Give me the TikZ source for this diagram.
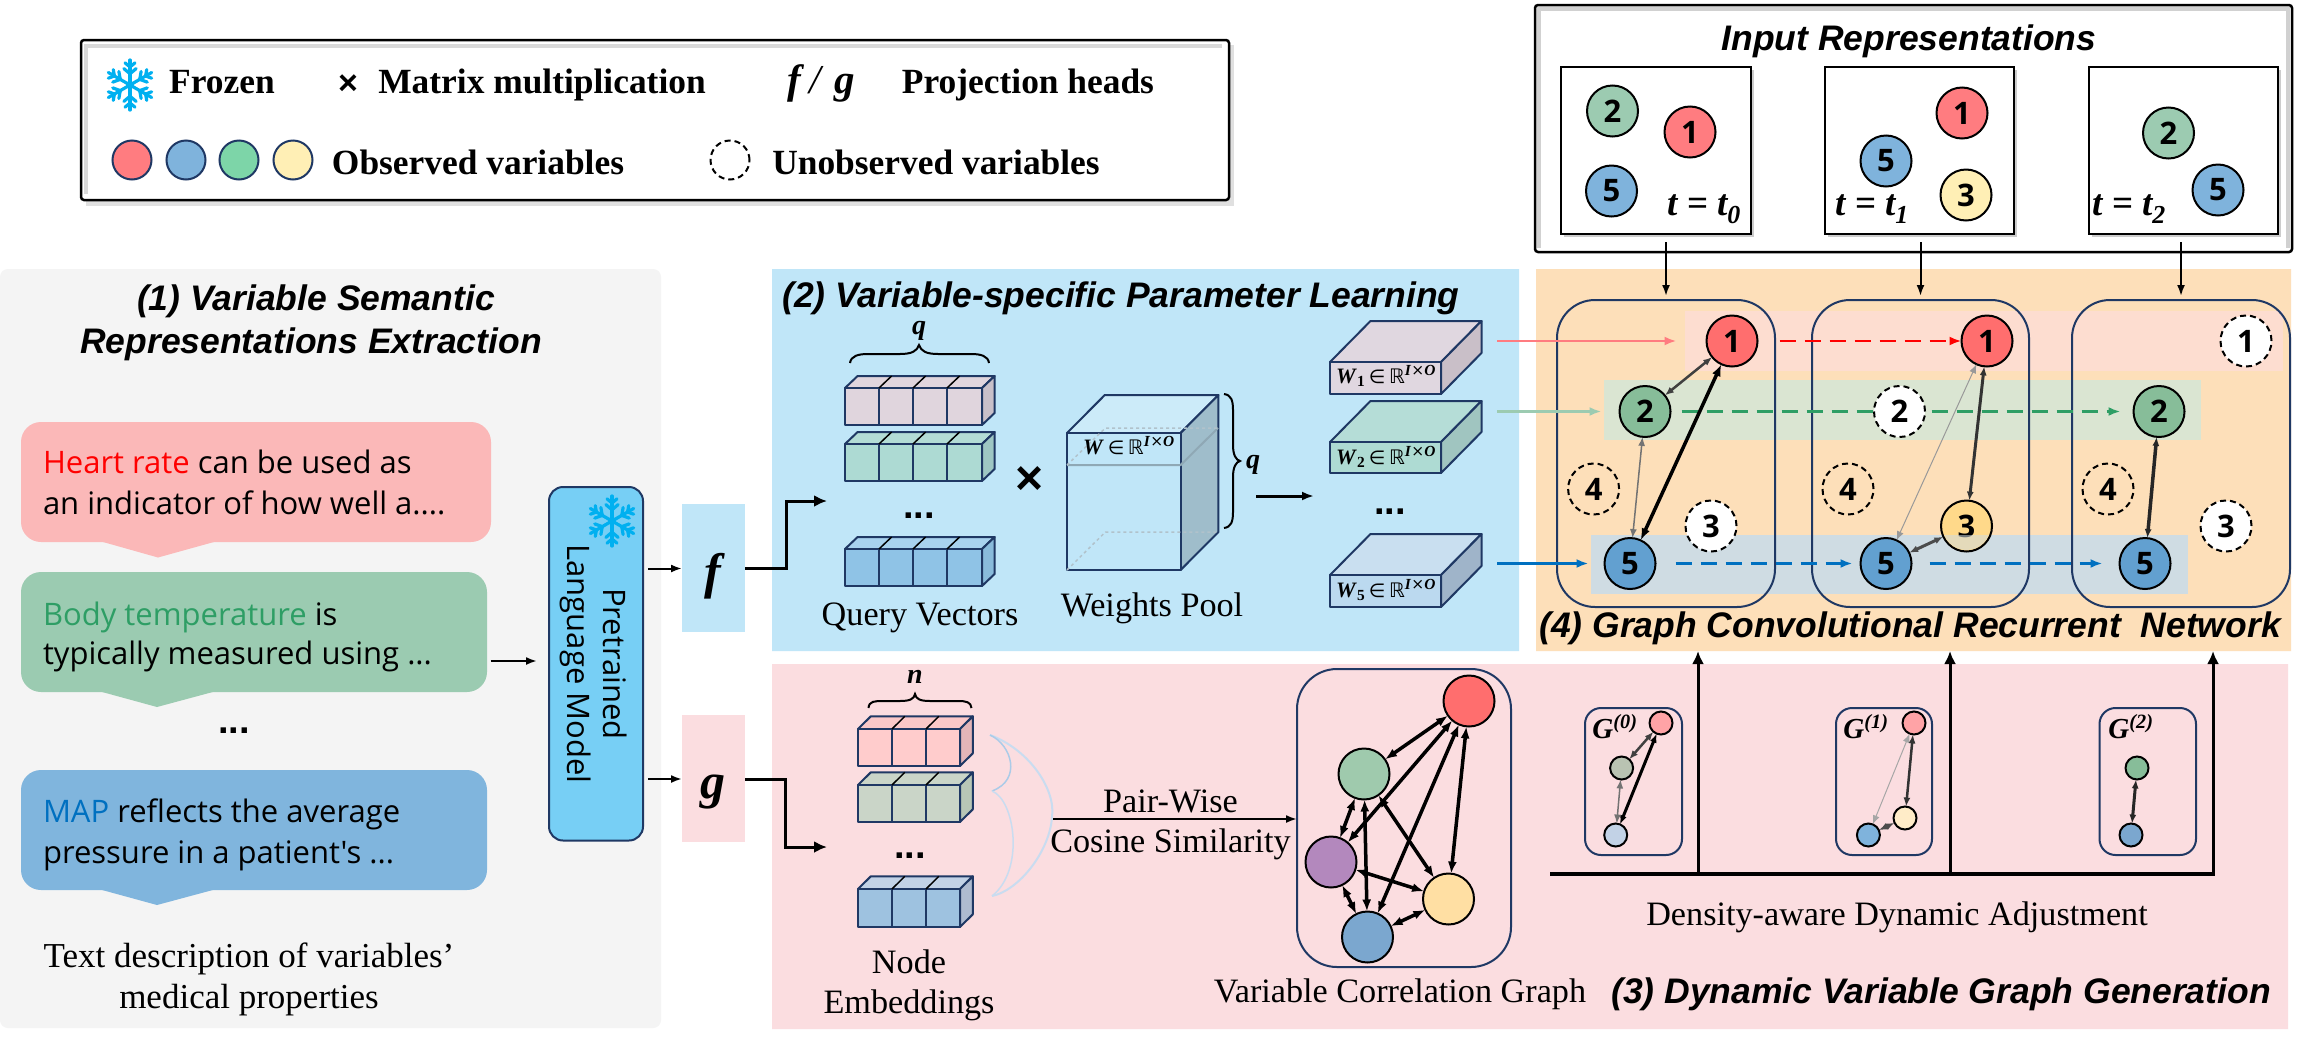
\documentclass[tikz,border=0pt]{standalone}
\usepackage{fontspec}
\usetikzlibrary{arrows.meta,shapes.misc,calc}
\setmainfont{Liberation Serif}
\newfontfamily\arialf{Liberation Sans}
\newfontfamily\comicf{Open Sans}
\newfontfamily\dejav{DejaVu Sans}
\newcommand\fsz[1]{\fontsize{#1}{#1}\selectfont}
\definecolor{navy}{HTML}{1F3864}
\definecolor{pGrey}{HTML}{F4F4F4}
\definecolor{pBlue}{HTML}{C0E6F8}
\definecolor{pPink}{HTML}{FBDDE0}
\definecolor{pOrange}{HTML}{FDDFB9}
\definecolor{bRed}{HTML}{FDDDD0}
\definecolor{bGreen}{HTML}{DAE5D2}
\definecolor{bBlue}{HTML}{CFDCE3}
\definecolor{cRed}{HTML}{FF7C80}
\definecolor{cBlue}{HTML}{7FB3DC}
\definecolor{cGreen}{HTML}{9CCBB1}
\definecolor{cMint}{HTML}{7DD5A8}
\definecolor{cYellow}{HTML}{FFEFB5}
\definecolor{sRed}{HTML}{FF6E6E}
\definecolor{sGreen}{HTML}{87BD99}
\definecolor{sBlue}{HTML}{62A0D0}
\definecolor{sYellow}{HTML}{FFD98A}
\definecolor{sPurple}{HTML}{B388BD}
\definecolor{sGBlue}{HTML}{7BA7CF}
\definecolor{sGYellow}{HTML}{FFDFA3}
\definecolor{flake}{HTML}{00B0F0}
\definecolor{dGreen}{HTML}{2E9E65}
\definecolor{dBlue}{HTML}{0070C0}
\definecolor{lmBlue}{HTML}{77CFF5}
\definecolor{bubR}{HTML}{FBB8B8}
\definecolor{bubG}{HTML}{9BCBB1}
\definecolor{bubB}{HTML}{80B5DD}
\definecolor{curveB}{HTML}{C9DCF0}
\definecolor{qAf}{HTML}{E0D5DD}\definecolor{qAs}{HTML}{C9C0C9}
\definecolor{qBf}{HTML}{ADDAD3}\definecolor{qBt}{HTML}{B3DCD5}\definecolor{qBs}{HTML}{9EC6C3}
\definecolor{qCf}{HTML}{8FC3E6}\definecolor{qCt}{HTML}{A8D2EE}\definecolor{qCs}{HTML}{89BBDB}
\definecolor{wpT}{HTML}{CCEBF9}\definecolor{wpS}{HTML}{9FBDCB}\definecolor{wpL}{HTML}{8FA8B5}
\definecolor{wAs}{HTML}{C9BFC8}\definecolor{wAf}{HTML}{E0D7E0}
\definecolor{wBf}{HTML}{AEDBD3}\definecolor{wBt}{HTML}{B5DDD7}\definecolor{wBs}{HTML}{A0C5C0}
\definecolor{wCf}{HTML}{BBD9EF}\definecolor{wCt}{HTML}{C9DFF0}\definecolor{wCs}{HTML}{9FB4C9}
\definecolor{nAf}{HTML}{FFCCCC}\definecolor{nAt}{HTML}{FBC8C8}\definecolor{nAs}{HTML}{E3B5B8}
\definecolor{nBf}{HTML}{CAD5C8}\definecolor{nBs}{HTML}{B8C6B6}
\definecolor{nCf}{HTML}{9EC2E0}\definecolor{nCt}{HTML}{C2D2E6}\definecolor{nCs}{HTML}{AEBBD0}
\tikzset{
 x=1pt,y=-1pt,
 panel/.style={chamfered rectangle,chamfered rectangle xsep=8pt,chamfered rectangle ysep=8pt,inner sep=0,outer sep=0},
 flat/.style={rectangle,inner sep=0,outer sep=0},
 capt/.style={anchor=base,inner sep=0,outer sep=0,align=center},
 legt/.style={capt,font=\fsz{35.4}\bfseries},
 serift/.style={capt,font=\fsz{34.2}},
 headt/.style={capt,font=\arialf\fsz{35.5}\bfseries\itshape},
 speech/.style={anchor=base west,inner sep=0,outer sep=0,font=\comicf\fsz{31}},
 dotst/.style={anchor=base,inner sep=0,outer sep=0,font=\arialf\fsz{38}\bfseries},
 vc/.style={circle,draw=black,line width=2pt,minimum size=51pt,inner sep=0,outer sep=0,font=\comicf\fsz{31}\bfseries},
 vd/.style={vc,dash pattern=on 6pt off 4pt},
 vs/.style={circle,draw=black,line width=2pt,minimum size=23pt,inner sep=0,outer sep=0},
 lgc/.style={circle,draw=navy,line width=2pt,minimum size=39pt,inner sep=0,outer sep=0},
 stagebox/.style={flat,draw=navy,line width=2pt,rounded corners=38pt},
 arr/.style={-{Latex[length=11pt,width=8pt]},line width=2pt,black},
 arrb/.style={-{Latex[length=13pt,width=12pt]},line width=3pt,black},
 dbl/.style={{Latex[length=12pt,width=9pt]}-{Latex[length=12pt,width=9pt]},line width=3.5pt,black},
 sdbl/.style={{Latex[length=9pt,width=7pt]}-{Latex[length=9pt,width=7pt]},line width=2.5pt},
 cubb/.style={draw=navy,line width=2pt,line join=round},
 dashar/.style={-{Latex[length=12pt,width=9pt]},line width=2.5pt,dash pattern=on 16pt off 9pt},
 solar/.style={-{Latex[length=12pt,width=9pt]},line width=2.5pt},
 mathl/.style={anchor=base,inner sep=0,outer sep=0,font=\fsz{22}},
 tlab/.style={capt,font=\fsz{37}\bfseries\itshape},
 glabel/.style={capt,font=\fsz{29}\bfseries\itshape},
 brc/.style={draw=black,line width=2pt},
 symb/.style={capt,font=\fsz{28}\bfseries\itshape},
}
\newcommand\wlab[1]{\textbf{\textit{W}}#1\,{\dejav\fsz{19}∈}\,{\dejav\fsz{20}ℝ}\textsuperscript{\textbf{\textit{I}}{\dejav ×}\textbf{\textit{O}}}}
\newcommand\nbx[7]{\node[#7,minimum width={(#4-#2)*1pt},minimum height={(#5-#3)*1pt}] (#1) at ({(#2+#4)/2},{(#3+#5)/2}) {#6};}
% x0 x1 ytop ybottom dx dy front top side
\newcommand\cuboid[9]{%
 \filldraw[cubb,fill=#8] (#1,#3) -- ({#1+#5},{#3-#6}) -- ({#2+#5},{#3-#6}) -- (#2,#3) -- cycle;
 \filldraw[cubb,fill=#9] (#2,#3) -- ({#2+#5},{#3-#6}) -- ({#2+#5},{#4-#6}) -- (#2,#4) -- cycle;
 \filldraw[cubb,fill=#7] (#1,#3) rectangle (#2,#4);
}
% list, ytop, ybottom, dx, dy
\newcommand\cuts[5]{\foreach \xc in {#1} {\draw[navy,line width=1.5pt] (\xc,#2) -- (\xc,#3); \draw[black,line width=1.5pt] (\xc,#2) -- ({\xc+#4},{#2-#5});}}
\newcommand\flakeat[3]{%
 \begin{scope}[flake,line width=3.2pt,line cap=round]
 \foreach \a in {30,90,150,210,270,330} {
  \draw (#1,#2) -- ({#1+#3*cos(\a)},{#2+#3*sin(\a)});
  \foreach \q/\l in {0.45/0.32,0.72/0.26} {
   \draw ({#1+\q*#3*cos(\a)},{#2+\q*#3*sin(\a)}) -- ({#1+\q*#3*cos(\a)+\l*#3*cos(\a+50)},{#2+\q*#3*sin(\a)+\l*#3*sin(\a+50)});
   \draw ({#1+\q*#3*cos(\a)},{#2+\q*#3*sin(\a)}) -- ({#1+\q*#3*cos(\a)+\l*#3*cos(\a-50)},{#2+\q*#3*sin(\a)+\l*#3*sin(\a-50)});
  }
 }
 \fill (#1,#2) circle ({0.16*#3});
 \end{scope}}
% top y, right x, bottom y, tip base x, tip y, colour
\newcommand\bubble[6]{\fill[#6,rounded corners=20pt] (21,#1) rectangle (#2,#3);\fill[#6] (#4,{#3-1}) -- ({#4+58.5},#5) -- ({#4+118},{#3-1}) -- cycle;}
\begin{document}
\begin{tikzpicture}
\useasboundingbox (0,0) rectangle (2302,1042);
\fill[white] (0,0) rectangle (2302,1042);
% ---------- panels
\nbx{pOne}{0}{269}{661}{1028}{}{flat,fill=pGrey,rounded corners=8pt}
\nbx{pTwo}{772}{269}{1519}{651}{}{panel,fill=pBlue}
\nbx{pThree}{772}{664}{2288}{1029}{}{panel,fill=pPink}
\nbx{pFour}{1536}{269}{2291}{651}{}{panel,fill=pOrange}
% ---------- legend
\fill[black!12] (86,45) rectangle (1234,206);
\nbx{legend}{81}{40}{1229}{200}{}{flat,draw=black,fill=white,line width=2.5pt,rounded corners=3pt}
\draw[black!15,line width=4pt] (86,194) -- (86,46) -- (1222,46);
\flakeat{130}{85}{25}
\node[legt] (lFrozen) at (222,93) {Frozen};
\node[capt,font=\arialf\fsz{34}\bfseries] (lTimes) at (348,94) {×};
\node[legt] (lMatrix) at (542,93) {Matrix multiplication};
\node[capt,font=\fsz{41}\bfseries\itshape] (lfg) at (821,93) {f\hspace{9pt}{\mdseries /}\hspace{13pt}g};
\node[legt] (lProj) at (1028,93) {Projection heads};
\node[lgc,fill=cRed] (lr) at (132,160) {};
\node[lgc,fill=cBlue] (lb) at (186,160) {};
\node[lgc,fill=cMint] (lg) at (239,160) {};
\node[lgc,fill=cYellow] (ly) at (293,160) {};
\node[legt] (lObs) at (478,174) {Observed variables};
\node[lgc,draw=black,dash pattern=on 6pt off 4pt] (ld) at (730,160) {};
\node[legt] (lUn) at (936,174) {Unobserved variables};
% ---------- input representations
\nbx{inBox}{1535}{5}{2292}{252}{}{flat,draw=black,fill=white,line width=2.5pt,rounded corners=3pt}
\draw[black!18,line width=4pt] (1539,248) -- (1539,9) -- (2288,9) -- (2288,248);
\node[headt] (inTitle) at (1909,50) {Input Representations};
\foreach \xa/\xb in {1561/1751,1825/2014,2089/2278} \fill[black!20] (\xa+3,70) rectangle (\xb+3,237);
\nbx{inA}{1561}{67}{1751}{234}{}{flat,draw=black,fill=white,line width=2pt}
\nbx{inB}{1825}{67}{2014}{234}{}{flat,draw=black,fill=white,line width=2pt}
\nbx{inC}{2089}{67}{2278}{234}{}{flat,draw=black,fill=white,line width=2pt}
\node[vc,fill=cGreen] (ia2) at (1612.5,111) {2};
\node[vc,fill=cRed] (ia1) at (1690,132) {1};
\node[vc,fill=cBlue] (ia5) at (1611.5,191) {5};
\node[tlab] (ta) at (1704,215) {t = t\textsubscript{0}};
\node[vc,fill=cRed] (ib1) at (1962,113) {1};
\node[vc,fill=cBlue] (ib5) at (1886,161) {5};
\node[vc,fill=cYellow] (ib3) at (1966,195) {3};
\node[tlab] (tb) at (1872,215) {t = t\textsubscript{1}};
\node[vc,fill=cGreen] (ic2) at (2168.5,133) {2};
\node[vc,fill=cBlue] (ic5) at (2218,190) {5};
\node[tlab] (tc) at (2129,215) {t = t\textsubscript{2}};
% ---------- section 1
\node[headt] (h1a) at (316,310) {(1) Variable Semantic};
\node[headt] (h1b) at (311,353) {Representations Extraction};
\bubble{422}{491}{542}{99.5}{557.5}{bubR}
\bubble{572}{487}{692}{98.5}{707}{bubG}
\bubble{770}{487}{890}{98.5}{905}{bubB}
\node[speech] (t1a) at (43,473) {\textcolor{red}{Heart rate} can be used as};
\node[speech] (t1b) at (43,514) {an indicator of how well a....};
\node[speech] (t2a) at (43,625) {\textcolor{dGreen}{Body temperature} is};
\node[speech] (t2b) at (43,664) {typically measured using ...};
\node[speech] (t3a) at (43,822) {\textcolor{dBlue}{MAP} reflects the average};
\node[speech] (t3b) at (43,863) {pressure in a patient's ...};
\node[dotst] (bdots) at (234,733) {...};
\node[capt,font=\fsz{35}] (capa) at (249,967.5) {Text description of variables’};
\node[capt,font=\fsz{35}] (capb) at (249,1008) {medical properties};
\nbx{lm}{549}{487}{643}{840.5}{}{flat,draw=navy,fill=lmBlue,line width=2pt,rounded corners=14pt}
\flakeat{612}{521}{25}
\node[rotate=-90,inner sep=0,outer sep=0,font=\comicf\fsz{31}] (lm1) at (615,664) {Pretrained};
\node[rotate=-90,inner sep=0,outer sep=0,font=\comicf\fsz{31}] (lm2) at (576,664) {Language Model};
\coordinate (bubOut) at (490.5,661);
\draw[arr,shorten >=12pt] (bubOut) -- (bubOut -| lm.west);
\nbx{fbox}{682}{504}{745}{632}{}{flat,fill=pBlue}
\nbx{gbox}{682}{715}{745}{842}{}{flat,fill=pPink}
\node[capt,font=\fsz{50}\bfseries\itshape] (flab) at (713,588) {f};
\node[capt,font=\fsz{50}\bfseries\itshape] (glab) at (713,798) {g};
\coordinate (lmf) at (648,568.5);
\coordinate (lmg) at (648,779);
\draw[arr] (lmf) -- (lmf -| fbox.west);
\draw[arr] (lmg) -- (lmg -| gbox.west);
\coordinate (qin) at (827,501);
\coordinate (nin) at (827,847);
\draw[arrb] (fbox.east |- lmf) -- (786,568.5) -- (786,501) -- (qin);
\draw[arrb] (gbox.east |- lmg) -- (785,779) -- (785,847) -- (nin);
% ---------- section 2
\node[headt] (h2) at (1121,307) {(2) Variable-specific Parameter Learning};
\cuboid{845}{982}{388}{425}{12.6}{12}{qAf}{qAf}{qAs}
\cuts{879,913,947}{388}{425}{12.6}{12}
\cuboid{845}{982}{444}{481}{12.6}{12}{qBf}{qBt}{qBs}
\cuts{879,913,947}{444}{481}{12.6}{12}
\cuboid{845}{982}{549}{586}{12.6}{12}{qCf}{qCt}{qCs}
\cuts{879,913,947}{549}{586}{12.6}{12}
\draw[brc] (850,363) .. controls (851,356) and (858,354) .. (868,354) -- (900,354) .. controls (912,354) and (917,351) .. (919,345) .. controls (921,351) and (926,354) .. (938,354) -- (971,354) .. controls (981,354) and (988,356) .. (989,363);
\node[symb] (qa) at (919,334) {q};
\node[dotst] (qdots) at (919,518) {...};
\node[capt,font=\arialf\fsz{48}\bfseries] (mult) at (1030,494) {×};
\node[serift] (qv) at (920,625) {Query Vectors};
% weights pool
\cuboid{1067}{1180.6}{433}{570}{37.8}{38}{pBlue}{wpT}{wpS}
\draw[wpL,line width=2pt] (1067,465) -- (1180.6,465) -- (1218,428);
\draw[wpL!70,line width=1.5pt,dashed] (1067,465) -- (1105.4,428) -- (1218,428);
\draw[wpL!70,line width=1.5pt,dashed] (1067,570) -- (1105.4,532) -- (1218,532);
\node[mathl] (wlabel) at (1129,454) {\wlab{}};
\draw[brc] (1224,394) .. controls (1231,395) and (1233,400) .. (1233,410) -- (1233,445) .. controls (1233,455) and (1236,460) .. (1240,461) .. controls (1236,462) and (1233,467) .. (1233,477) -- (1233,512) .. controls (1233,522) and (1231,527) .. (1224,528);
\node[symb] (qb) at (1253,468) {q};
\coordinate (wpOut) at (1256,496);
\coordinate (wsIn) at (1314,496);
\draw[arrb,-{Latex[length=12pt,width=9pt]}] (wpOut) -- (wsIn);
\node[serift] (wp) at (1152,616) {Weights Pool};
\cuboid{1330}{1441}{362}{394}{40.5}{41}{wAf}{wAf}{wAs}
\cuboid{1330}{1441}{442}{473}{40.5}{41}{wBf}{wBt}{wBs}
\cuboid{1330}{1441}{575}{607}{40.5}{41}{wCf}{wCt}{wCs}
\node[mathl] (w1) at (1386,383) {\wlab{\textsubscript{\textbf{1}}}};
\node[mathl] (w2) at (1386,464) {\wlab{\textsubscript{\textbf{2}}}};
\node[mathl] (w5) at (1386,597) {\wlab{\textsubscript{\textbf{5}}}};
\node[dotst] (wdots) at (1390,514) {...};
% ---------- section 4
\fill[bRed] (1685,311) rectangle (2283,371);
\fill[bGreen] (1604,380) rectangle (2201,440);
\fill[bBlue] (1591,534.5) rectangle (2188,593.5);
\nbx{stA}{1557}{300}{1775}{607}{}{stagebox}
\nbx{stB}{1812}{300}{2029}{607}{}{stagebox}
\nbx{stC}{2072}{300}{2290}{607}{}{stagebox}
\draw[arr,shorten <=8pt,shorten >=4pt] (stA.north |- inA.south) -- (stA.north);
\draw[arr,shorten <=8pt,shorten >=4pt] (stB.north |- inB.south) -- (stB.north);
\draw[arr,shorten <=8pt,shorten >=4pt] (stC.north |- inC.south) -- (stC.north);
\node[vc,fill=sRed] (a1) at (1732,341) {1};
\node[vc,fill=sGreen] (a2) at (1645,411.5) {2};
\node[vd] (a4) at (1593.6,489) {4};
\node[vd,fill=white] (a3) at (1711,526) {3};
\node[vc,fill=sBlue] (a5) at (1630,563.5) {5};
\node[vc,fill=sRed] (b1) at (1987,341) {1};
\node[vc,fill=sYellow] (b3) at (1966.5,526) {3};
\node[vd] (b4) at (1848,489) {4};
\node[vc,fill=sBlue] (b5) at (1886,563.5) {5};
\node[vd,fill=white] (c1) at (2246,341) {1};
\node[vc,fill=sGreen] (c2) at (2159,411.5) {2};
\node[vd] (c4) at (2108,489) {4};
\node[vd,fill=white] (c3) at (2226,526) {3};
\node[vc,fill=sBlue] (c5) at (2145,563.5) {5};
\begin{scope}
\clip (1966.5,526) circle (24);
\fill[bBlue,opacity=.55] (1930,534.5) rectangle (2000,593.5);
\end{scope}
\draw[dashar,red,shorten <=22pt] (a1) -- (b1);
\draw[dashar,dGreen,shorten <=11pt,shorten >=13pt] (a2) -- (c2);
\node[vd,fill=white] (b2) at (1899.5,411.5) {2};
\draw[dashar,dBlue,shorten <=20pt,shorten >=8pt] (a5) -- (b5);
\draw[dashar,dBlue,shorten <=18pt,shorten >=17pt] (b5) -- (c5);
\coordinate (w1out) at (1497,341);
\coordinate (w2out) at (1497,411.5);
\coordinate (w5out) at (1497,563.5);
\draw[solar,cRed,shorten >=30pt] (w1out) -- (a1);
\draw[solar,cGreen,shorten >=18pt] (w2out) -- (a2);
\draw[solar,dBlue,shorten >=16pt] (w5out) -- (a5);
\draw[sdbl,black!75] (a1) -- (a2);
\draw[dbl] (a1) -- (a5);
\draw[sdbl,black!55,line width=1.5pt] (a2) -- (a5);
\draw[sdbl,black!40,line width=1pt] (b1) -- (b5);
\draw[sdbl,black!80,line width=3pt] (b1) -- (b3);
\draw[sdbl,black!70,line width=3pt] (b3) -- (b5);
\draw[sdbl,black!85,line width=3.5pt] (c2) -- (c5);
\node[headt] (h4) at (1910,637.5) {(4) Graph Convolutional Recurrent\ \ Network};
% ---------- section 3
\cuboid{858}{960}{729}{766}{12.8}{12.7}{nAf}{nAt}{nAs}
\cuts{892,926}{729}{766}{12.8}{12.7}
\cuboid{858}{960}{785}{822}{12.8}{12.7}{nBf}{nBf}{nBs}
\cuts{892,926}{785}{822}{12.8}{12.7}
\cuboid{858}{960}{889}{927}{12.8}{12.7}{nCf}{nCt}{nCs}
\cuts{892,926}{889}{927}{12.8}{12.7}
\draw[brc] (868.5,708) .. controls (869,701) and (875,701) .. (883,701) -- (900,701) .. controls (910,701) and (914,699) .. (915,694) .. controls (916,699) and (920,701) .. (930,701) -- (958,701) .. controls (966,701) and (971,702) .. (971.5,708);
\node[symb] (nsym) at (915,683) {n};
\node[dotst] (ndots) at (910,858) {...};
\node[serift] (ne1) at (909,973) {Node};
\node[serift] (ne2) at (909,1013) {Embeddings};
\draw[curveB,line width=2pt] (990,735) .. controls (1030,750) and (1056,790) .. (1052,817) .. controls (1050,850) and (1020,890) .. (992,896);
\draw[curveB!60!cBlue,line width=1.5pt] (990,735) .. controls (1012,745) and (1022,780) .. (992,791);
\draw[curveB,line width=1.5pt] (992,791) .. controls (1015,800) and (1025,870) .. (992,896);
\nbx{vcg}{1297}{669}{1511}{967}{}{flat,draw=navy,line width=2pt,rounded corners=40pt}
\coordinate (pwStart) at (1053,819);
\draw[arr] (pwStart) -- (pwStart -| vcg.west);
\node[serift] (pw1) at (1170.5,812) {Pair-Wise};
\node[serift] (pw2) at (1170.5,852) {Cosine Similarity};
\node[vc,fill=sRed] (gr) at (1469,701) {};
\node[vc,fill=sGreen!80!white] (gg) at (1364,774) {};
\node[vc,fill=sPurple] (gp) at (1331,862) {};
\node[vc,fill=sGYellow] (gy) at (1448.5,899) {};
\node[vc,fill=sGBlue] (gb) at (1367.5,937) {};
\foreach \p/\q in {gr/gg,gr/gp,gr/gb,gr/gy,gg/gp,gg/gb,gg/gy,gp/gy,gp/gb,gb/gy} \draw[dbl] (\p) -- (\q);
\node[serift] (vcgl) at (1400,1002) {Variable Correlation Graph};
\nbx{gA}{1585}{708}{1682}{855}{}{flat,draw=navy,line width=2pt,rounded corners=16pt}
\nbx{gB}{1836}{708}{1932}{855}{}{flat,draw=navy,line width=2pt,rounded corners=16pt}
\nbx{gC}{2099.5}{708}{2196}{855}{}{flat,draw=navy,line width=2pt,rounded corners=16pt}
\node[vs,fill=cRed!70!white] (s1) at (1661,723) {};
\node[vs,fill=bGreen!85!black] (s2) at (1621.6,768) {};
\node[vs,fill=nCt] (s3) at (1615.7,835) {};
\node[vs,fill=cRed!70!white] (s4) at (1914,723) {};
\node[vs,fill=sGYellow!60!white] (s5) at (1905,818) {};
\node[vs,fill=cBlue] (s6) at (1868.4,835) {};
\node[vs,fill=sGreen] (s7) at (2137,768) {};
\node[vs,fill=sGBlue] (s8) at (2131,835) {};
\draw[sdbl,black!75] (s1) -- (s2);
\draw[sdbl,line width=3pt,black] (s1) -- (s3);
\draw[sdbl,black!55,line width=1.5pt] (s2) -- (s3);
\draw[sdbl,black!35,line width=1pt] (s4) -- (s6);
\draw[sdbl,black!80] (s4) -- (s5);
\draw[sdbl,black!70,line width=3pt] (s5) -- (s6);
\draw[sdbl,black!85,line width=3pt] (s7) -- (s8);
\node[glabel] (g0) at (1615,738) {G\textsuperscript{(0)}};
\node[glabel] (g1) at (1866,738) {G\textsuperscript{(1)}};
\node[glabel] (g2) at (2131,738) {G\textsuperscript{(2)}};
\coordinate (busL) at (1550,874);
\coordinate (busA) at (1698,874);
\coordinate (busB) at (1950,874);
\coordinate (busC) at (2213,874);
\draw[line width=3.5pt] (busL) -- (2215,874);
\draw[arrb] (busA) -- (busA |- pFour.south);
\draw[arrb] (busB) -- (busB |- pFour.south);
\draw[arrb] (busC) -- (busC |- pFour.south);
\node[serift] (dad) at (1897,925) {Density-aware Dynamic Adjustment};
\node[headt] (h3) at (1941,1003) {(3) Dynamic Variable Graph Generation};
\end{tikzpicture}
\end{document}
